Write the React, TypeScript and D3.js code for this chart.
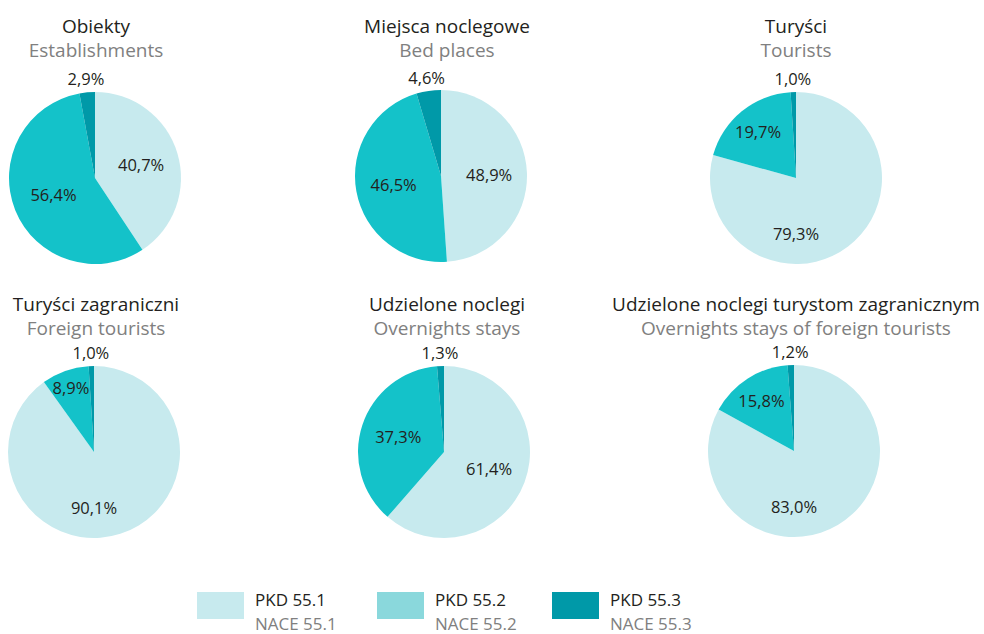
import React from "react";
import * as d3 from "d3";

const titlesPl = [
  "Obiekty",
  "Miejsca noclegowe",
  "Turyści",
  "Turyści zagraniczni",
  "Udzielone noclegi",
  "Udzielone noclegi turystom zagranicznym",
];
const titlesEn = [
  "Establishments",
  "Bed places",
  "Tourists",
  "Foreign tourists",
  "Overnights stays",
  "Overnights stays of foreign tourists",
];
const pkd551 = [40.7, 48.9, 79.3, 90.1, 61.4, 83.0];
const pkd552 = [56.4, 46.5, 19.7, 8.9, 37.3, 15.8];
const pkd553 = [2.9, 4.6, 1.0, 1.0, 1.3, 1.2];
const legendPl = ["PKD 55.1", "PKD 55.2", "PKD 55.3"];
const legendEn = ["NACE 55.1", "NACE 55.2", "NACE 55.3"];

const pieColors = ["#c7eaee", "#14c2c9", "#0099a8"];
const legendColors = ["#c7eaee", "#8ad8dc", "#0099a8"];
const FONT = "'Open Sans', sans-serif";

const centers: [number, number][] = [
  [95, 178],
  [441, 176],
  [796, 178],
  [94, 452],
  [444, 452],
  [794, 451],
];
const titleX = [96, 447, 796, 96, 447, 796];
const rowTitleY = [33, 311];
const R = 86;

const fmt = (v: number) => v.toFixed(1).replace(".", ",") + "%";

function Pie({ i }: { i: number }) {
  const values = [pkd551[i], pkd552[i], pkd553[i]];
  const pie = d3.pie<number>().sort(null).value((d) => d)(values);
  const arc = d3.arc<d3.PieArcDatum<number>>().innerRadius(0).outerRadius(R);
  const [cx, cy] = centers[i];
  const row = i < 3 ? 0 : 1;
  const ty = rowTitleY[row];
  return (
    <g>
      <text x={titleX[i]} y={ty} textAnchor="middle" fontSize={19} fill="#231f20" fontFamily={FONT}>
        {titlesPl[i]}
      </text>
      <text x={titleX[i]} y={ty + 24} textAnchor="middle" fontSize={19} fill="#808080" fontFamily={FONT}>
        {titlesEn[i]}
      </text>
      <g transform={`translate(${cx},${cy})`}>
        {pie.map((p, k) => (
          <path key={k} d={arc(p) || ""} fill={pieColors[k]} />
        ))}
        {pie.map((p, k) => {
          const mid = (p.startAngle + p.endAngle) / 2;
          let ang = mid;
          let rad: number;
          if (k === 2) {
            rad = R + 14;
          } else {
            if (p.value > 75) ang = Math.PI;
            rad =
              p.value < 10
                ? 0.8 * R
                : p.value < 25
                ? 0.7 * R
                : p.value > 75
                ? 0.64 * R
                : p.value > 50 && k === 1
                ? 0.52 * R
                : 0.56 * R;
          }
          const x = rad * Math.sin(ang);
          const y = -rad * Math.cos(ang);
          return (
            <text
              key={"l" + k}
              x={x}
              y={y}
              textAnchor="middle"
              dominantBaseline="central"
              fontSize={16.5}
              fill="#231f20"
              fontFamily={FONT}
            >
              {fmt(p.value)}
            </text>
          );
        })}
      </g>
    </g>
  );
}

export default function App() {
  const legendX = [197, 377, 552];
  return (
    <svg width={984} height={634} style={{ display: "block", position: "absolute", left: 0, top: 0 }}>
      <rect width={984} height={634} fill="#ffffff" />
      {titlesPl.map((_, i) => (
        <Pie key={i} i={i} />
      ))}
      {legendPl.map((l, k) => (
        <g key={k} transform={`translate(${legendX[k]},592)`}>
          <rect width={47} height={27} fill={legendColors[k]} />
          <text x={58} y={14} fontSize={17} fill="#231f20" fontFamily={FONT}>
            {l}
          </text>
          <text x={58} y={38} fontSize={17} fill="#808080" fontFamily={FONT}>
            {legendEn[k]}
          </text>
        </g>
      ))}
    </svg>
  );
}
